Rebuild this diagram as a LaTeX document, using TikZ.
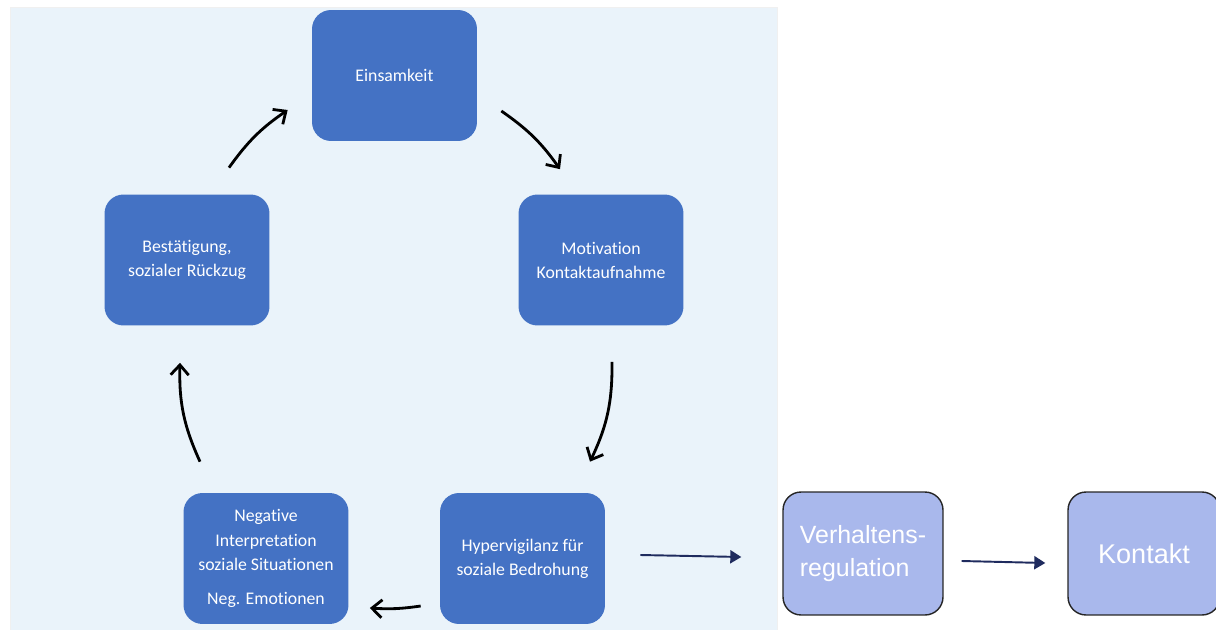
\documentclass[tikz,border=0pt]{standalone}
\usepackage{fontspec}
\setmainfont[Ligatures=NoCommon]{Carlito}
\newfontfamily\arialfont{Liberation Sans}
\usetikzlibrary{arrows.meta}
\definecolor{boxblue}{HTML}{4472C4}
\definecolor{panel}{HTML}{EAF3FA}
\definecolor{lilac}{HTML}{A9B8EC}
\definecolor{navy}{HTML}{1F2B5E}
\tikzset{
  cycbox/.style={rectangle, rounded corners=0.38cm, fill=boxblue, text=white,
    minimum width=3.3cm, minimum height=2.62cm, align=center,
    font=\fontsize{10.1}{13.7}\selectfont},
  regbox/.style={rectangle, rounded corners=0.36cm, fill=lilac, draw=black!85,
    line width=0.8pt, text=white, minimum height=2.46cm, align=left},
  cyc/.style={line width=1.6pt, -{Straight Barb[length=2mm,width=3.6mm]}},
  flow/.style={navy, line width=1.1pt, -{Triangle[length=2.2mm,width=2.6mm]}}
}
\begin{document}
\begin{tikzpicture}[x=0.02cm,y=0.02cm]
      \clip (0,0) rectangle (1216,630);
      \fill[panel] (10,0) rectangle (777,623);
      \draw[gray!12] (10,0) -- (10,623) -- (777,623) -- (777,0);
      \draw
        (394.5,554.5) node[cycbox] (ein) {Einsamkeit}
        (601,370) node[cycbox] (mot) {Motivation\\Kontaktaufnahme}
        (522.5,71.5) node[cycbox] (hyp) {Hypervigilanz für\\soziale Bedrohung}
        (266,71.5) node[cycbox] (neg) {Negative\\Interpretation\\soziale Situationen\\[5.7pt]Neg. Emotionen}
        (187,370) node[cycbox] (bes) {Bestätigung,\\sozialer Rückzug}
        (863,76.5) node[regbox, minimum width=3.2cm, text depth=0.1cm,
          font=\arialfont\fontsize{14.2}{18.8}\selectfont] (ver) {Verhaltens-\\regulation}
        (1144,76.5) node[regbox, minimum width=3.04cm, align=center,
          font=\arialfont\fontsize{15.4}{18.8}\selectfont] (kon) {Kontakt};
      \begin{scope}[cyc]
        \draw ([shift={(42,26.5)}]bes.north) to[bend left=10] ([shift={(-24,-34.5)}]ein.west);
        \draw ([shift={(24,-35.5)}]ein.east) to[bend left=10] ([shift={(-41,25)}]mot.north);
        \draw ([shift={(11,-36)}]mot.south) to[bend left=13] ([shift={(67.5,31)}]hyp.north);
        \draw ([shift={(-19,-47.5)}]hyp.west) to[bend left=6] ([shift={(21,-49.5)}]neg.east);
        \draw ([shift={(-66,31)}]neg.north) to[bend left=13] ([shift={(-7,-37)}]bes.south);
      \end{scope}
      \begin{scope}[flow]
        \draw ([shift={(35,3.5)}]hyp.east) to ([shift={(-41,-3.5)}]ver.west);
        \draw ([shift={(18,-7.5)}]ver.east) to ([shift={(-22,-9.5)}]kon.west);
      \end{scope}
    \end{tikzpicture}
\end{document}
